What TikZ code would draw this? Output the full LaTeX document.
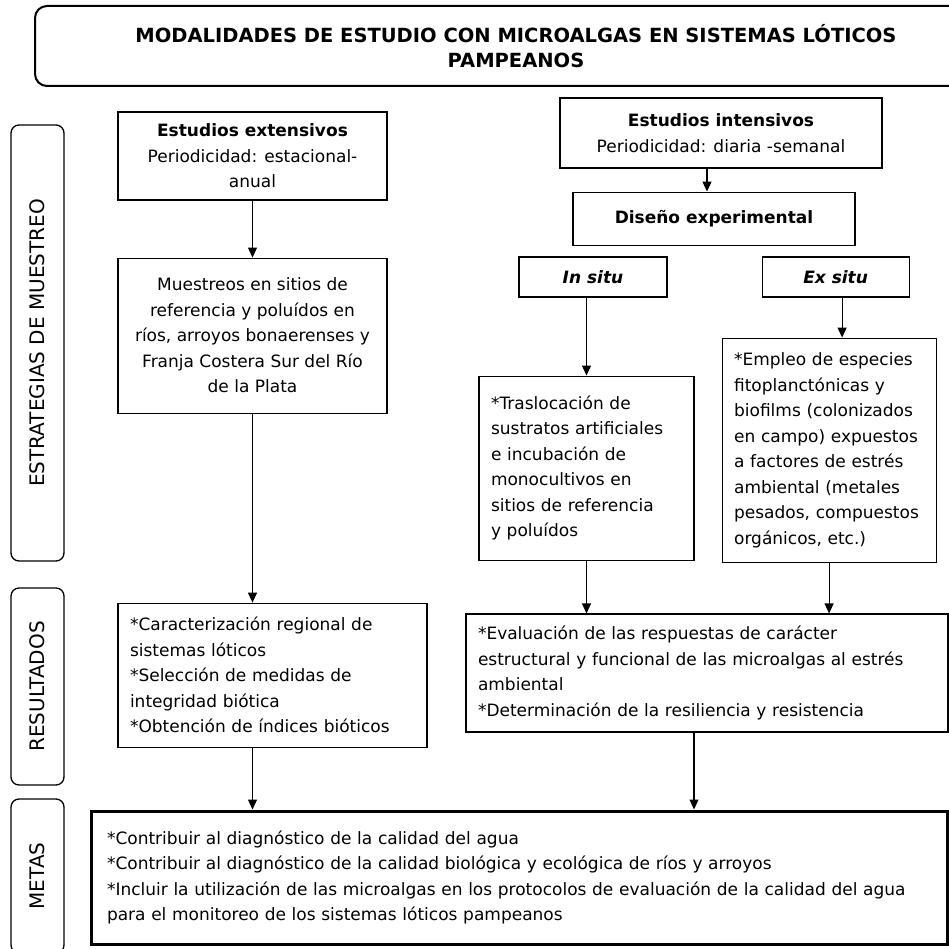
\documentclass[tikz,border=0pt]{standalone}
\usepackage{fontspec}
\setmainfont{DejaVu Sans}
\usetikzlibrary{arrows.meta,positioning}

\begin{document}
\begin{tikzpicture}[
    x=1pt, y=-1pt,
    >={Triangle[length=10pt,width=9pt]},
    % plain frames; text size matches the 949px sheet
    box/.style={draw=black, line width=1.1pt, fill=white, inner sep=0pt, font=\fontsize{17}{25.5}\selectfont},
    cbox/.style={box, align=center},
    lbox/.style={box, align=left, inner xsep=12pt, text width=#1},
    side/.style={draw=black, line width=1.3pt, rounded corners=8pt, rotate=90, minimum height=53pt, inner sep=0pt, font=\fontsize{20}{24}\selectfont},
    arr/.style={->, line width=1.1pt}
  ]
  \useasboundingbox (0,0) rectangle (949,949);
  \clip (0,0) rectangle (949,949);

  \node[draw=black, line width=2pt, rounded corners=12pt, minimum width=962pt, minimum height=80pt, align=center,
        font=\fontsize{19.5}{25}\selectfont\bfseries] (tit) at (516,46)
        {MODALIDADES DE ESTUDIO CON MICROALGAS EN SISTEMAS LÓTICOS\\PAMPEANOS};

  % row labels
  \node[side, minimum width=436pt] (estr) at (37.5,343) {ESTRATEGIAS DE MUESTREO};
  \node[side, minimum width=197pt] (resu) at (37.5,686.5) {RESULTADOS};
  \node[side, minimum width=154pt] (meta) at (37.5,876) {METAS};

  % extensive branch
  \node[cbox, minimum width=269pt, minimum height=88pt] (ext) at (252.5,156)
        {\textbf{Estudios extensivos}\\Periodicidad: estacional-\\anual};
  \node[cbox, minimum width=269pt, minimum height=155pt, below=57pt of ext] (mue)
        {Muestreos en sitios de\\referencia y poluídos en\\ríos, arroyos bonaerenses y\\Franja Costera Sur del Río\\de la Plata};
  \node[lbox=285pt, minimum height=144pt, below=189pt of mue, xshift=20pt] (car)
        {*Caracterización regional de\\sistemas lóticos\\{}*Selección de medidas de\\integridad biótica\\{}*Obtención de índices bióticos};

  % intensive branch
  \node[cbox, minimum width=322pt, minimum height=70pt] (int) at (721,133)
        {\textbf{Estudios intensivos}\\Periodicidad: diaria -semanal};
  \node[cbox, minimum width=282pt, minimum height=53pt, below=23pt of int, xshift=-7pt] (dis)
        {\textbf{Diseño experimental}};
  \node[cbox, minimum width=148pt, minimum height=40pt] (ins) at (593,277) {\textbf{\textit{In situ}}};
  \node[cbox, minimum width=147pt, minimum height=40pt, right=94pt of ins] (exs) {\textbf{\textit{Ex situ}}};
  \node[lbox=191pt, minimum height=184pt, below=78pt of ins, xshift=-6.5pt] (tra)
        {*Traslocación de\\sustratos artificiales\\e incubación de\\monocultivos en\\sitios de referencia\\y poluídos};
  \node[lbox=190pt, minimum height=224pt, below=40pt of exs, xshift=-6.5pt] (emp)
        {*Empleo de especies\\fitoplanctónicas y\\biofilms (colonizados\\en campo) expuestos\\a factores de estrés\\ambiental (metales\\pesados, compuestos\\orgánicos, etc.)};
  \node[lbox=458pt, minimum height=118pt] (res) at (707,673)
        {*Evaluación de las respuestas de carácter\\estructural y funcional de las microalgas al estrés\\ambiental\\{}*Determinación de la resiliencia y resistencia};

  \node[lbox=824pt, inner xsep=16pt, minimum height=133pt, line width=3pt] (met) at (519,877.5)
        {*Contribuir al diagnóstico de la calidad del agua\\{}*Contribuir al diagnóstico de la calidad biológica y ecológica de ríos y arroyos\\{}*Incluir la utilización de las microalgas en los protocolos de evaluación de la calidad del agua\\para el monitoreo de los sistemas lóticos pampeanos};

  \draw[arr] (ext) -- (mue);
  \draw[arr] (mue.south) -- (mue.south |- car.north);
  \draw[arr] ([xshift=-14pt]int.south) -- ([xshift=-14pt]int.south |- dis.north);
  \draw[arr] (ins.south -| tra.north) -- (tra.north);
  \draw[arr] ([xshift=6.5pt]exs.south) -- ([xshift=6.5pt]exs.south |- emp.north);
  \draw[arr] (tra.south) -- (tra.south |- res.north);
  \draw[arr] (emp.south) -- (emp.south |- res.north);
  \draw[arr] (mue.south |- car.south) -- (mue.south |- met.north);
  \draw[arr] ([xshift=-13pt]res.south) -- ([xshift=-13pt]res.south |- met.north);
\end{tikzpicture}
\end{document}
